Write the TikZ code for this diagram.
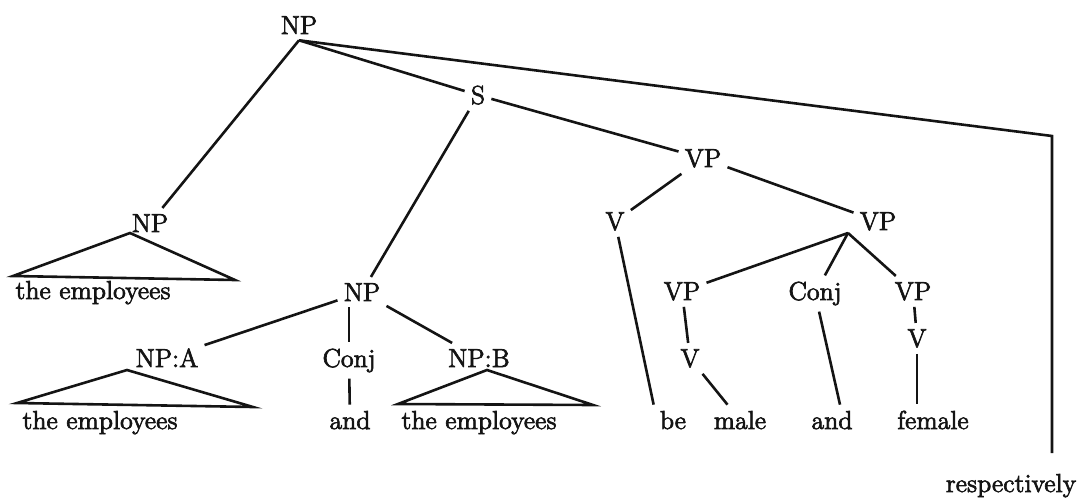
\documentclass[tikz,border=0pt]{standalone}
\usepackage{fontspec}
\usepackage{tikz}
\usetikzlibrary{calc}
\newfontfamily\treeFont{lmroman12-regular.otf}[FakeBold=2.5]
\definecolor{inkColor}{HTML}{141414}

\begin{document}
\begin{tikzpicture}[x=0.5pt, y=-0.5pt, line width=1.3pt, draw=inkColor,
    treeLabel/.style={anchor=base, inner sep=2.5pt, text=inkColor, font=\treeFont\fontsize{13}{15}\selectfont}]
    \useasboundingbox (0,0) rectangle (1085,498);
    \node[treeLabel] (np0) at (299,34) {NP};
    \node[treeLabel] (s) at (478,104) {S};
    \node[treeLabel] (npl) at (150,232) {NP};
    \node[treeLabel] (wemp1) at (93,299) {the employees};
    \node[treeLabel] (npm) at (362,301) {NP};
    \node[treeLabel] (npa) at (167,367) {NP:A};
    \node[treeLabel] (conja) at (349,367) {Conj};
    \node[treeLabel] (npb) at (479,367) {NP:B};
    \node[treeLabel] (wemp2) at (100,429) {the employees};
    \node[treeLabel] (wand1) at (350,429) {and};
    \node[treeLabel] (wemp3) at (479,429) {the employees};
    \node[treeLabel] (vp0) at (703,167) {VP};
    \node[treeLabel] (v0) at (615,230) {V};
    \node[treeLabel] (vp1) at (878,230) {VP};
    \node[treeLabel] (vp2) at (682,300) {VP};
    \node[treeLabel] (conjb) at (815,300) {Conj};
    \node[treeLabel] (vp3) at (913,300) {VP};
    \node[treeLabel] (v1) at (690,367) {V};
    \node[treeLabel] (v2) at (917,347) {V};
    \node[treeLabel] (wbe) at (673,429) {be};
    \node[treeLabel] (wmale) at (740,429) {male};
    \node[treeLabel] (wand2) at (832,429) {and};
    \node[treeLabel] (wfemale) at (933,429) {female};
    \node[treeLabel] (wresp) at (1011,492) {respectively};
    \coordinate (corner) at (1052,136);
    \coordinate (cornerEnd) at (1052,453);
    \coordinate (vp1b) at (848,233);

    \draw (np0.south) -- (npl);
    \draw (np0.south) -- (s);
    \draw (np0.south) -- (corner) -- (cornerEnd);
    \draw (s) -- (npm);
    \draw (s) -- (vp0);
    \draw (npm) -- (npa);
    \draw (conja |- npm.south) -- (conja);
    \draw (npm) -- (npb);
    \draw (conja) -- (wand1);
    \draw (130,233) -- (13,276) -- (235,280) -- cycle;
    \draw (127,370) -- (17,403) -- (253,407) -- cycle;
    \draw (487,370) -- (398,404) -- (593,405) -- cycle;
    \draw (vp0) -- (v0);
    \draw (vp0) -- (vp1);
    \draw (v0) -- (wbe.north west);
    \draw (vp1b) -- (vp2);
    \draw (vp1b) -- (conjb);
    \draw (vp1b) -- (vp3);
    \draw (vp2) -- (v1);
    \draw (v1) -- (wmale);
    \draw (conjb) -- ($(wand2.north)+(8,0)$);
    \draw (vp3) -- (v2);
    \draw (v2) -- (v2 |- wfemale.north);
\end{tikzpicture}
\end{document}
